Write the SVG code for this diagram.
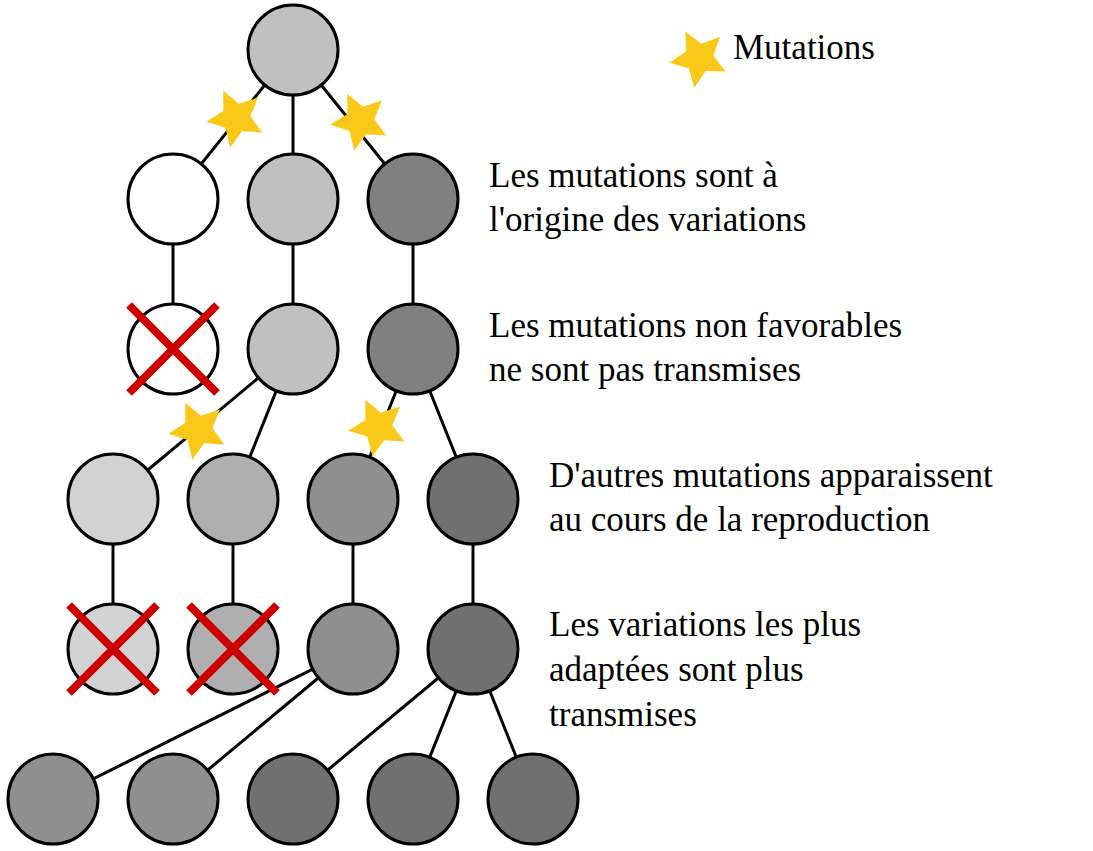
<svg xmlns="http://www.w3.org/2000/svg" width="1093" height="851" viewBox="0 0 1093 851">
<rect width="1093" height="851" fill="#fff"/>
<text x="733" y="59" font-size="35" font-family="Liberation Serif">Mutations</text>
<text x="489" y="187" font-size="35" font-family="Liberation Serif">Les mutations sont &#224;</text>
<text x="489" y="231" font-size="35" font-family="Liberation Serif">l'origine des variations</text>
<text x="489" y="337" font-size="35" font-family="Liberation Serif">Les mutations non favorables</text>
<text x="489" y="381" font-size="35" font-family="Liberation Serif">ne sont pas transmises</text>
<text x="549" y="487" font-size="35" font-family="Liberation Serif">D'autres mutations apparaissent</text>
<text x="549" y="531" font-size="35" font-family="Liberation Serif">au cours de la reproduction</text>
<text x="549" y="636" font-size="35" font-family="Liberation Serif">Les variations les plus</text>
<text x="549" y="681" font-size="35" font-family="Liberation Serif">adapt&#233;es sont plus</text>
<text x="549" y="726" font-size="35" font-family="Liberation Serif">transmises</text>
<defs>
<path id="star" fill="#f9c818" d="M0,-30 L8.5,-11.7 L28.53,-9.27 L13.76,4.47 L17.63,24.27 L0,14.5 L-17.63,24.27 L-13.76,4.47 L-28.53,-9.27 L-8.5,-11.7 Z"/>
</defs>
<g id="connectors" stroke="#000" stroke-width="3" fill="none">
<line x1="293" y1="50" x2="173" y2="199"/>
<line x1="293" y1="50" x2="293" y2="199"/>
<line x1="293" y1="50" x2="413" y2="199"/>
<line x1="173" y1="199" x2="173" y2="349"/>
<line x1="293" y1="199" x2="293" y2="349"/>
<line x1="413" y1="199" x2="413" y2="349"/>
<line x1="293" y1="349" x2="113" y2="499"/>
<line x1="293" y1="349" x2="233" y2="499"/>
<line x1="413" y1="349" x2="353" y2="499"/>
<line x1="413" y1="349" x2="473" y2="499"/>
<line x1="113" y1="499" x2="113" y2="649"/>
<line x1="233" y1="499" x2="233" y2="649"/>
<line x1="353" y1="499" x2="353" y2="649"/>
<line x1="473" y1="499" x2="473" y2="649"/>
<line x1="353" y1="649" x2="53" y2="799"/>
<line x1="353" y1="649" x2="173" y2="799"/>
<line x1="473" y1="649" x2="293" y2="799"/>
<line x1="473" y1="649" x2="413" y2="799"/>
<line x1="473" y1="649" x2="533" y2="799"/>
</g>
<g id="nodes" stroke="#000" stroke-width="3">
<g id="n0"><circle cx="293" cy="50" r="45" fill="#c0c0c0"/></g>
<g id="n1a"><circle cx="173" cy="199" r="45" fill="#ffffff"/></g>
<g id="n1b"><circle cx="293" cy="199" r="45" fill="#c0c0c0"/></g>
<g id="n1c"><circle cx="413" cy="199" r="45" fill="#808080"/></g>
<g id="n2a"><circle cx="173" cy="349" r="45" fill="#ffffff"/>
<path d="M129,305 L217,393 M217,305 L129,393" stroke="#cc0000" stroke-width="8"/></g>
<g id="n2b"><circle cx="293" cy="349" r="45" fill="#c0c0c0"/></g>
<g id="n2c"><circle cx="413" cy="349" r="45" fill="#808080"/></g>
<g id="n3a"><circle cx="113" cy="499" r="45" fill="#d2d2d2"/></g>
<g id="n3b"><circle cx="233" cy="499" r="45" fill="#afafaf"/></g>
<g id="n3c"><circle cx="353" cy="499" r="45" fill="#8f8f8f"/></g>
<g id="n3d"><circle cx="473" cy="499" r="45" fill="#707070"/></g>
<g id="n4a"><circle cx="113" cy="649" r="45" fill="#d2d2d2"/>
<path d="M69,605 L157,693 M157,605 L69,693" stroke="#cc0000" stroke-width="8"/></g>
<g id="n4b"><circle cx="233" cy="649" r="45" fill="#afafaf"/>
<path d="M189,605 L277,693 M277,605 L189,693" stroke="#cc0000" stroke-width="8"/></g>
<g id="n4c"><circle cx="353" cy="649" r="45" fill="#8f8f8f"/></g>
<g id="n4d"><circle cx="473" cy="649" r="45" fill="#707070"/></g>
<g id="n5a"><circle cx="53" cy="799" r="45" fill="#8f8f8f"/></g>
<g id="n5b"><circle cx="173" cy="799" r="45" fill="#8f8f8f"/></g>
<g id="n5c"><circle cx="293" cy="799" r="45" fill="#707070"/></g>
<g id="n5d"><circle cx="413" cy="799" r="45" fill="#707070"/></g>
<g id="n5e"><circle cx="533" cy="799" r="45" fill="#707070"/></g>
</g>
<g id="stars">
<use href="#star" transform="translate(236,118) rotate(-25)"/>
<use href="#star" transform="translate(360,121) rotate(-25)"/>
<use href="#star" transform="translate(198,430) rotate(-25)"/>
<use href="#star" transform="translate(378,427) rotate(-25)"/>
</g>
<g id="legend">
<use href="#star" transform="translate(699,58) rotate(-27)"/>
</g>
</svg>
